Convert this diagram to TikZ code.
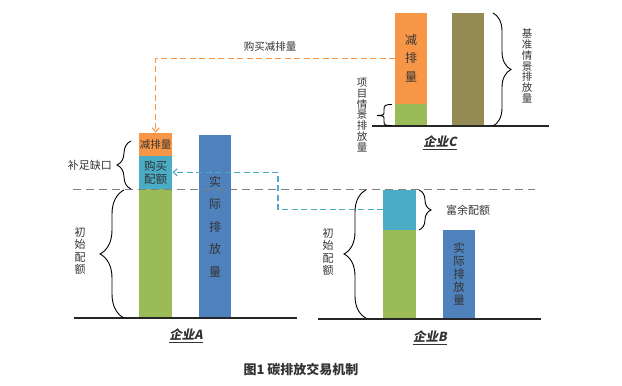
\documentclass[tikz,border=0pt]{standalone}
\usepackage{fontspec}
\setmainfont{Noto Sans CJK SC}
\newfontfamily\firmfont{Noto Sans CJK SC}[FakeSlant=0.2]
\usepackage{tikz}
\usepackage{xcolor}
\usetikzlibrary{positioning,decorations.pathreplacing,arrows.meta}
\definecolor{cutorange}{HTML}{F79646}
\definecolor{buycyan}{HTML}{4BACC6}
\definecolor{quotagreen}{HTML}{9BBB59}
\definecolor{emitblue}{HTML}{4F81BD}
\definecolor{baseolive}{HTML}{948A54}
\definecolor{txtgray}{HTML}{333333}
\begin{document}
\begin{tikzpicture}[x=1pt,y=-1pt,
bar/.style={rectangle,inner sep=0pt,anchor=south west,align=center,text=txtgray},
ground/.style={draw=black!85,line width=1.4pt},
brace/.style={draw=black,line width=0.9pt,decorate,decoration={brace,amplitude=#1}},
note/.style={text=txtgray,font=\fontsize{11}{12.5}\selectfont,align=center,inner sep=0pt},
firm/.style={text=txtgray,font=\fontsize{12.5}{14}\selectfont\firmfont\bfseries,inner sep=0pt},
trade/.style={line width=1.1pt,dash pattern=on 6pt off 3.5pt,-{Straight Barb[length=4pt,width=7pt]}}]
\useasboundingbox (0,0) rectangle (622,386);
% enterprise A
\node (aGreen) [bar,fill=quotagreen,minimum width=33pt,minimum height=129pt] at (139,318) {};
\node (aBuy) [bar,fill=buycyan,minimum width=33pt,minimum height=33pt,
    font=\fontsize{11.5}{13}\selectfont] at (139,189) {购买\\配额};
\node (aCut) [bar,fill=cutorange,minimum width=33pt,minimum height=23pt,
    font=\fontsize{10.5}{12}\selectfont] at (139,156) {减排量};
\node (aEmit) [bar,fill=emitblue,minimum width=32pt,minimum height=183pt,
    font=\fontsize{12}{22.5}\selectfont] at (199,318) {实\\际\\排\\放\\量};
\draw [ground] (74,318) -- (297,318);
% enterprise B
\node (bGreen) [bar,fill=quotagreen,minimum width=33pt,minimum height=89pt] at (383,319) {};
\node (bBuy) [bar,fill=buycyan,minimum width=33pt,minimum height=40pt] at (383,230) {};
\node (bEmit) [bar,fill=emitblue,minimum width=32pt,minimum height=89pt,
    font=\fontsize{11.5}{13}\selectfont] at (443,319) {实\\际\\排\\放\\量};
\draw [ground] (318,319) -- (541,319);
% enterprise C
\node (cGreen) [bar,fill=quotagreen,minimum width=32pt,minimum height=22pt] at (395,126) {};
\node (cCut) [bar,fill=cutorange,minimum width=32pt,minimum height=91pt,
    font=\fontsize{12}{18.5}\selectfont] at (395,104) {减\\排\\量};
\node (cBase) [bar,fill=baseolive,minimum width=32pt,minimum height=113pt] at (452,126) {};
\draw [ground] (372,126) -- (549,126);
% quota line
\draw [gray,line width=1.1pt,dash pattern=on 8pt off 5pt] (73,189.5) -- (535,189.5);
% braces
\draw [brace=14pt] (131,189) -- (131,141);
\draw [brace=24pt] (124,318) -- (124,190);
\draw [brace=22pt] (366,318) -- (366,190);
\draw [brace=12pt] (419,190) -- (419,230);
\draw [brace=18pt] (493,13) -- (493,126);
% short brace, drawn by hand
\draw [line width=0.9pt] (392,104.5) .. controls (385,104.5) and (384,105.5) .. (384,109.5)
    -- (384,112) .. controls (384,115) .. (377,115.5) .. controls (384,116) .. (384,119)
    -- (384,121.5) .. controls (384,125.5) and (385,125.5) .. (392,125.5);
\node (gapTxt) [note,anchor=east] at (112,165) {补足缺口};
\node (aInitTxt) [note] at (80,251) {初\\始\\配\\额};
\node (bInitTxt) [note] at (328,252) {初\\始\\配\\额};
\node (surTxt) [note,anchor=west] at (446,210) {富余配额};
\node (projTxt) [note,font=\fontsize{10.5}{10.8}\selectfont] at (362,115) {项\\目\\情\\景\\排\\放\\量};
\node (baseTxt) [note,font=\fontsize{10.5}{10.8}\selectfont] at (527,66) {基\\准\\情\\景\\排\\放\\量};
% trading
\draw [trade,cutorange] (cCut.west) -| (aCut.north);
\node (buyTxt) [note,font=\fontsize{10.5}{12}\selectfont] at (270,47) {购买减排量};
\draw [trade,buycyan] (bBuy.west) -- ++(-105,0) |- (aBuy.east);
% captions
\node (firmA) [firm] at (186,336) {\underline{企业A}};
\node (firmB) [firm] at (430,338) {\underline{企业B}};
\node (firmC) [firm] at (440,143) {\underline{企业C}};
\node (caption) [text=txtgray,font=\fontsize{13}{15}\selectfont\bfseries] at (301,370) {图1\ 碳排放交易机制};
\end{tikzpicture}
\end{document}
